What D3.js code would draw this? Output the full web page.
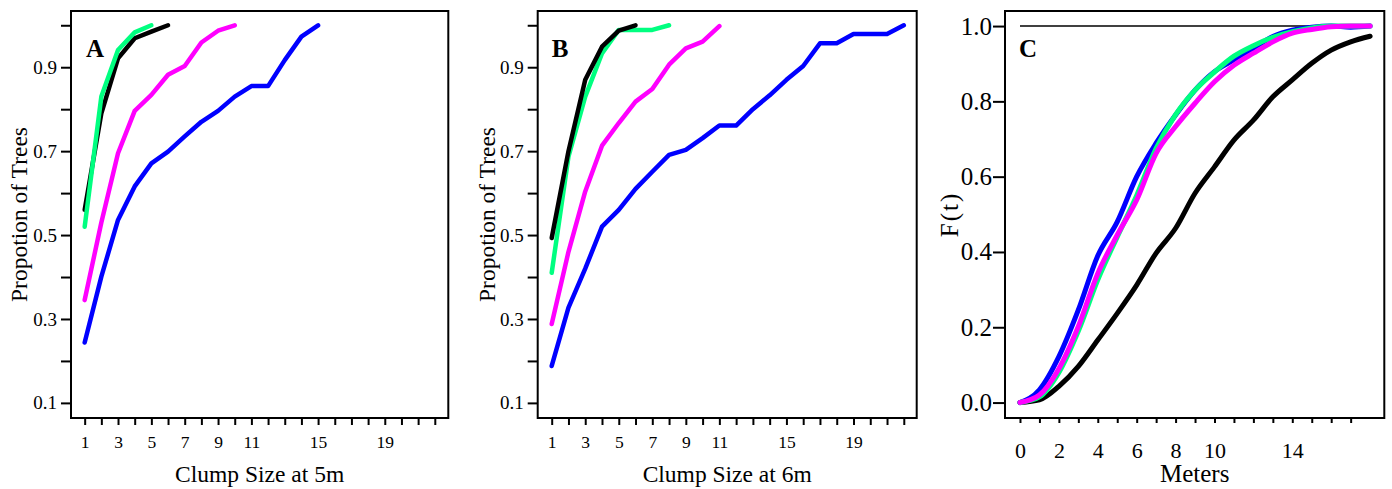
<!DOCTYPE html>
<html>
<head>
<meta charset="utf-8">
<script src="https://cdn.jsdelivr.net/npm/d3@7"></script>
<style>
body { margin:0; background:#fff; }
svg { display:block; font-family:"Liberation Serif", "Times New Roman", serif; }
</style>
</head>
<body>
<svg id="drawing_region"></svg>
<script>
// panel A : clump size at 5m (x = 1, 2, 3, ...)
const blackA   = [0.56, 0.79, 0.921, 0.969, 0.985, 1.0];
const greenA   = [0.52, 0.83, 0.941, 0.983, 1.0];
const magentaA = [0.345, 0.53, 0.695, 0.796, 0.834, 0.882, 0.903, 0.959, 0.987, 1.0];
const blueA    = [0.244, 0.401, 0.536, 0.616, 0.671, 0.699, 0.735, 0.770, 0.796, 0.830,
                  0.855, 0.855, 0.917, 0.973, 1.0];

// panel B : clump size at 6m
const blackB   = [0.493, 0.70, 0.87, 0.949, 0.987, 1.0];
const greenB   = [0.41, 0.687, 0.83, 0.933, 0.989, 0.989, 0.989, 1.0];
const magentaB = [0.288, 0.46, 0.604, 0.713, 0.767, 0.818, 0.848, 0.906, 0.945, 0.961, 0.998];
const blueB    = [0.188, 0.327, 0.42, 0.52, 0.56, 0.61, 0.651, 0.691, 0.703, 0.731, 0.761,
                  0.761, 0.80, 0.833, 0.87, 0.903, 0.957, 0.957, 0.979, 0.979, 0.979, 1.0];

// panel C : F(t) against meters (x = 0, 1, 2, ... 18)
const blackC   = [0, 0.007, 0.043, 0.096, 0.166, 0.237, 0.312, 0.397, 0.463, 0.556, 0.626,
                  0.697, 0.75, 0.812, 0.857, 0.901, 0.936, 0.958, 0.973];
const blueC    = [0, 0.034, 0.122, 0.246, 0.39, 0.48, 0.60, 0.689, 0.764, 0.83, 0.879,
                  0.91, 0.941, 0.972, 0.989, 0.997, 1.0, 0.997, 1.0];
const greenC   = [0, 0.015, 0.08, 0.19, 0.326, 0.44, 0.55, 0.675, 0.765, 0.83, 0.878,
                  0.92, 0.948, 0.97, 0.985, 0.995, 1.0, 1.0, 1.0];
const magentaC = [0, 0.02, 0.09, 0.202, 0.343, 0.445, 0.538, 0.662, 0.733, 0.795, 0.852,
                  0.896, 0.928, 0.958, 0.981, 0.991, 0.998, 1.0, 1.0];

// ticks
const clumpTicks  = d3.range(1, 23);
const clumpLabels = [1, 3, 5, 7, 9, 11, 15, 19];
const propTicks   = [0.1, 0.2, 0.3, 0.4, 0.5, 0.6, 0.7, 0.8, 0.9, 1.0];
const propLabels  = [0.1, 0.3, 0.5, 0.7, 0.9];
const meterTicks  = d3.range(0, 18);
const meterLabels = [0, 2, 4, 6, 8, 10, 14];
const fTicks      = [0, 0.2, 0.4, 0.6, 0.8, 1.0];

const colors = { black:'#000000', blue:'#0000ff', magenta:'#ff00ff', green:'#00ff80' };

d3.select('#drawing_region').attr('width', 1392).attr('height', 489);

class CurvePlot {

    constructor( config, series ) {
        this.config = config;
        this.series = series;
        this.init();
        this.render();
    }

    init() {
        let self = this;
        const c = self.config;
        self.svg = d3.select('#drawing_region');
        self.g = self.svg.append('g');

        self.xscale = d3.scaleLinear()
            .domain( c.xdomain )
            .range( [c.left, c.left + c.width] );

        self.yscale = d3.scaleLinear()
            .domain( c.ydomain )
            .range( [c.top + c.height, c.top] );
    }

    render() {
        let self = this;
        const c = self.config;

        // x axis
        const xaxis = d3.axisBottom( self.xscale )
            .tickValues( c.xticks )
            .tickSize( c.xtickSize )
            .tickPadding( c.xtickPadding )
            .tickFormat( d => c.xlabels.includes(d) ? d : '' );

        const xg = self.g.append('g')
            .attr('transform', `translate(0, ${c.top + c.height})`)
            .call( xaxis );
        xg.select('.domain').remove();
        xg.selectAll('line').attr('stroke', '#000').attr('stroke-width', 2);
        xg.selectAll('text')
            .attr('fill', '#000')
            .attr('font-family', '"Liberation Serif", serif')
            .attr('font-size', c.xfont + 'px');

        // y axis
        const yaxis = d3.axisLeft( self.yscale )
            .tickValues( c.yticks )
            .tickSize( c.ytickSize )
            .tickPadding( c.ytickPadding )
            .tickFormat( d => c.ylabels.some(v => Math.abs(v - d) < 1e-9) ? d3.format('.1f')(d) : '' );

        const yg = self.g.append('g')
            .attr('transform', `translate(${c.left}, 0)`)
            .call( yaxis );
        yg.select('.domain').remove();
        yg.selectAll('line').attr('stroke', '#000').attr('stroke-width', 2);
        yg.selectAll('text')
            .attr('fill', '#000')
            .attr('font-family', '"Liberation Serif", serif')
            .attr('font-size', c.yfont + 'px');

        // reference line
        if ( c.refLine ) {
            self.g.append('line')
                .attr('x1', self.xscale( c.refLine[0] ))
                .attr('x2', self.xscale( c.refLine[1] ))
                .attr('y1', self.yscale( 1 ))
                .attr('y2', self.yscale( 1 ))
                .attr('stroke', '#000')
                .attr('stroke-width', 1.5);
        }

        // curves
        const line = d3.line()
            .x( (d, i) => self.xscale( i + c.x0 ) )
            .y( d => self.yscale( d ) )
            .curve( c.curve );

        self.g.selectAll('path.curve')
            .data( self.series )
            .enter()
            .append('path')
            .attr('class', 'curve')
            .attr('d', d => line( d.values ))
            .attr('fill', 'none')
            .attr('stroke', d => colors[d.color])
            .attr('stroke-width', c.lineWidth)
            .attr('stroke-linejoin', 'round')
            .attr('stroke-linecap', 'round');

        // frame
        self.g.append('rect')
            .attr('x', c.left)
            .attr('y', c.top)
            .attr('width', c.width)
            .attr('height', c.height)
            .attr('fill', 'none')
            .attr('stroke', '#000')
            .attr('stroke-width', 2);

        // labels
        self.g.append('text')
            .attr('x', c.left + c.width / 2)
            .attr('y', 482)
            .attr('text-anchor', 'middle')
            .attr('font-size', c.labelFont + 'px')
            .text( c.xlabel );

        const yl = self.g.append('text')
            .attr('transform', `translate(${c.ylabelX}, ${c.top + c.height / 2}) rotate(-90)`)
            .attr('text-anchor', 'middle')
            .attr('font-size', c.labelFont + 'px')
            .text( c.ylabel );
        if ( c.ylabelSpacing ) yl.attr('letter-spacing', c.ylabelSpacing);

        self.g.append('text')
            .attr('x', c.left + c.letterDx)
            .attr('y', 57)
            .attr('font-size', '25px')
            .attr('font-weight', 'bold')
            .text( c.letter );
    }
}

const clumpBase = {
    top: 11, height: 407,
    ydomain: [0.064, 1.034],
    xticks: clumpTicks, xlabels: clumpLabels,
    yticks: propTicks, ylabels: propLabels,
    xtickSize: 7, xtickPadding: 11, xfont: 17.5,
    ytickSize: 10, ytickPadding: 4, yfont: 19,
    labelFont: 23.5, ylabel: 'Propotion of Trees',
    x0: 1, curve: d3.curveLinear, lineWidth: 4.5, letterDx: 15
};

new CurvePlot( Object.assign({}, clumpBase, {
    left: 71, width: 377.3, xdomain: [0.18, 22.81],
    xlabel: 'Clump Size at 5m', ylabelX: 27, letter: 'A'
}), [
    { color:'blue', values: blueA },
    { color:'magenta', values: magentaA },
    { color:'black', values: blackA },
    { color:'green', values: greenA }
]);

new CurvePlot( Object.assign({}, clumpBase, {
    left: 537.7, width: 379, xdomain: [0.165, 22.77],
    xlabel: 'Clump Size at 6m', ylabelX: 495, letter: 'B', letterDx: 14
}), [
    { color:'blue', values: blueB },
    { color:'magenta', values: magentaB },
    { color:'green', values: greenB },
    { color:'black', values: blackB }
]);

new CurvePlot({
    left: 1005, top: 11, width: 379.3, height: 407,
    xdomain: [-0.77, 18.73], ydomain: [-0.041, 1.04],
    xticks: meterTicks, xlabels: meterLabels,
    yticks: fTicks, ylabels: fTicks,
    xtickSize: 5, xtickPadding: 19, xfont: 22,
    ytickSize: 12, ytickPadding: 1, yfont: 25,
    labelFont: 25, xlabel: 'Meters', ylabel: 'F(t)', ylabelX: 958, ylabelSpacing: 2,
    x0: 0, curve: d3.curveMonotoneX, lineWidth: 5,
    refLine: [0, 18], letter: 'C', letterDx: 14
}, [
    { color:'black', values: blackC },
    { color:'blue', values: blueC },
    { color:'green', values: greenC },
    { color:'magenta', values: magentaC }
]);
</script>
</body>
</html>
